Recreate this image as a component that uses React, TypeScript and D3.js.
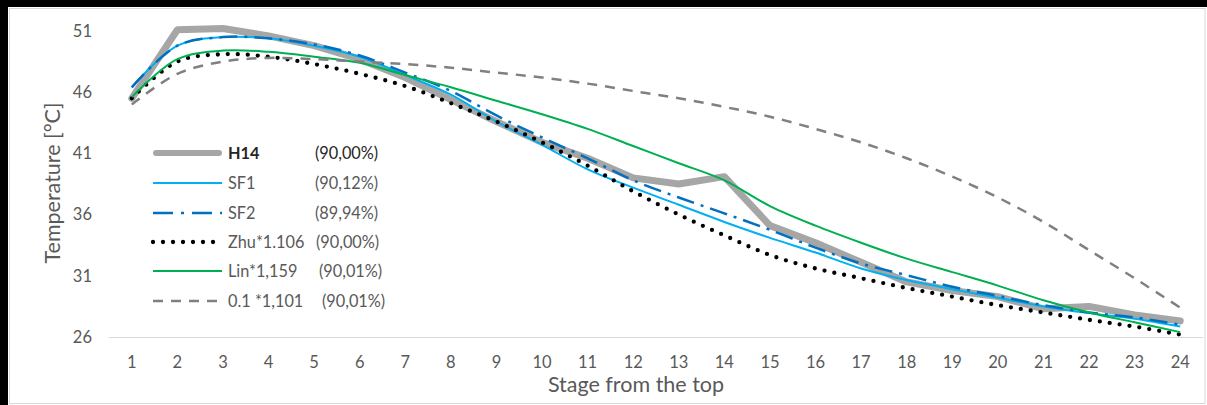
import React from "react";
import * as d3 from "d3";

// Stage numbers along the column (top = 1)
const stages: number[] = d3.range(1, 25);
const yTicks: number[] = [26, 31, 36, 41, 46, 51];

// Temperature profiles [°C]
const h14: number[] = [45.5, 51.1, 51.2, 50.6, 49.8, 48.7, 47.2, 45.4, 43.6, 41.9, 40.6, 39.0, 38.5, 39.1, 35.1, 33.7, 32.1, 30.5, 29.8, 29.3, 28.3, 28.5, 27.8, 27.3];
const sf1: number[] = [46.4, 49.8, 50.5, 50.4, 49.8, 48.9, 47.4, 45.8, 43.6, 41.7, 39.7, 38.2, 36.8, 35.4, 34.1, 32.9, 31.6, 30.65, 29.9, 29.2, 28.5, 27.95, 27.5, 26.85];
const sf2: number[] = [46.4, 49.8, 50.5, 50.4, 49.9, 49.0, 47.6, 46.1, 44.1, 42.3, 40.6, 38.8, 37.4, 36.1, 34.75, 33.3, 32.0, 31.05, 30.1, 29.35, 28.6, 28.0, 27.6, 27.0];
const zhu: number[] = [45.5, 48.5, 49.1, 48.9, 48.3, 47.5, 46.5, 45.1, 43.6, 41.9, 40.0, 37.9, 36.0, 34.3, 32.7, 31.6, 30.8, 30.0, 29.3, 28.6, 28.0, 27.4, 26.85, 26.2];
const lin: number[] = [45.6, 48.7, 49.4, 49.3, 48.9, 48.4, 47.4, 46.4, 45.3, 44.2, 43.0, 41.6, 40.2, 38.8, 36.7, 35.1, 33.7, 32.4, 31.3, 30.2, 29.0, 28.0, 27.2, 26.4];
const model01: number[] = [45.0, 47.5, 48.5, 48.8, 48.7, 48.5, 48.3, 48.0, 47.6, 47.2, 46.7, 46.1, 45.5, 44.8, 44.0, 43.0, 41.9, 40.6, 39.1, 37.4, 35.4, 33.1, 30.8, 28.4];

// Legend labels
const seriesNames: string[] = ["H14", "SF1", "SF2", "Zhu*1.106", "Lin*1,159", "0.1 *1,101"];
const seriesFits: string[] = ["(90,00%)", "(90,12%)", "(89,94%)", "(90,00%)", "(90,01%)", "(90,01%)"];

type Style = {
  color: string;
  width: number;
  dash?: string;
  cap?: "round" | "butt";
  smooth: boolean;
};

const styles: Style[] = [
  { color: "#a6a6a6", width: 7, cap: "round", smooth: false },
  { color: "#00b0f0", width: 2, smooth: true },
  { color: "#0070c0", width: 2.5, dash: "18 7 3 7", smooth: true },
  { color: "#000000", width: 4.3, dash: "0 10", cap: "round", smooth: true },
  { color: "#00b050", width: 2, smooth: true },
  { color: "#808080", width: 2.5, dash: "10 8", smooth: true },
];

const seriesData: number[][] = [h14, sf1, sf2, zhu, lin, model01];

const W = 1207;
const H = 405;
const FONT = "Lato, 'Noto Sans', sans-serif";

export default function App() {
  const x = d3.scalePoint<number>().domain(stages).range([109, 1203]).padding(0.5);
  const y = d3.scaleLinear().domain([26, 51]).range([337, 31]);

  const makeLine = (smooth: boolean) =>
    d3
      .line<number>()
      .x((_, i) => x(stages[i]) as number)
      .y((v) => y(v))
      .curve(smooth ? d3.curveCatmullRom.alpha(0.5) : d3.curveLinear);

  const legendX0 = 153;
  const legendX1 = 222;
  const legendRows = [153, 183, 213, 242, 271, 301];
  const fitX = [315, 315, 315, 316, 319, 322];

  return (
    <svg
      width={W}
      height={H}
      style={{ position: "absolute", left: 0, top: 0, background: "#ffffff" }}
      fontFamily={FONT}
    >
      {/* frame */}
      <rect x={9.5} y={8.5} width={1195.5} height={395} fill="#ffffff" stroke="#d9d9d9" strokeWidth={1} />
      <rect x={0} y={0} width={W} height={7} fill="#000000" />
      <rect x={0} y={0} width={8} height={H} fill="#000000" />

      {/* category axis line */}
      <line x1={109} x2={1203} y1={y(26) + 0.5} y2={y(26) + 0.5} stroke="#d9d9d9" strokeWidth={1} />

      {/* y tick labels */}
      {yTicks.map((t) => (
        <text key={t} x={92} y={y(t)} dy="0.35em" textAnchor="end" fontSize={16.5} fill="#595959">
          {t}
        </text>
      ))}

      {/* x tick labels */}
      {stages.map((s) => (
        <text key={s} x={x(s)} y={362} dy="0.35em" textAnchor="middle" fontSize={16.5} fill="#595959">
          {s}
        </text>
      ))}

      {/* axis titles */}
      <text x={636} y={384} dy="0.35em" textAnchor="middle" fontSize={21.5} fill="#595959">
        Stage from the top
      </text>
      <text
        transform={`translate(52,183) rotate(-90)`}
        textAnchor="middle"
        dy="0.35em"
        fontSize={21.5}
        fill="#595959"
      >
        Temperature [°C]
      </text>

      {/* series */}
      {seriesData.map((vals, i) => {
        const st = styles[i];
        return (
          <path
            key={seriesNames[i]}
            d={makeLine(st.smooth)(vals) ?? ""}
            fill="none"
            stroke={st.color}
            strokeWidth={st.width}
            strokeDasharray={st.dash}
            strokeLinecap={st.cap ?? "butt"}
            strokeLinejoin="round"
          />
        );
      })}

      {/* legend */}
      {seriesNames.map((name, i) => {
        const st = styles[i];
        const ly = legendRows[i];
        const dark = i === 0;
        return (
          <g key={name}>
            <line
              x1={legendX0 + (i === 0 ? 3 : 0)}
              x2={legendX1 - (i === 0 ? 3 : 0)}
              y1={ly}
              y2={ly}
              stroke={st.color}
              strokeWidth={i === 0 ? 6 : st.width}
              strokeDasharray={i === 2 ? "20 8 3 8" : st.dash}
              strokeLinecap={st.cap ?? "butt"}
            />
            <text x={228} y={ly} dy="0.35em" fontSize={16.3} fill={dark ? "#262626" : "#595959"} fontWeight={dark ? 700 : 400}>
              {name}
            </text>
            <text x={fitX[i]} y={ly} dy="0.35em" fontSize={16.3} fill={dark ? "#262626" : "#595959"}>
              {seriesFits[i]}
            </text>
          </g>
        );
      })}
    </svg>
  );
}
